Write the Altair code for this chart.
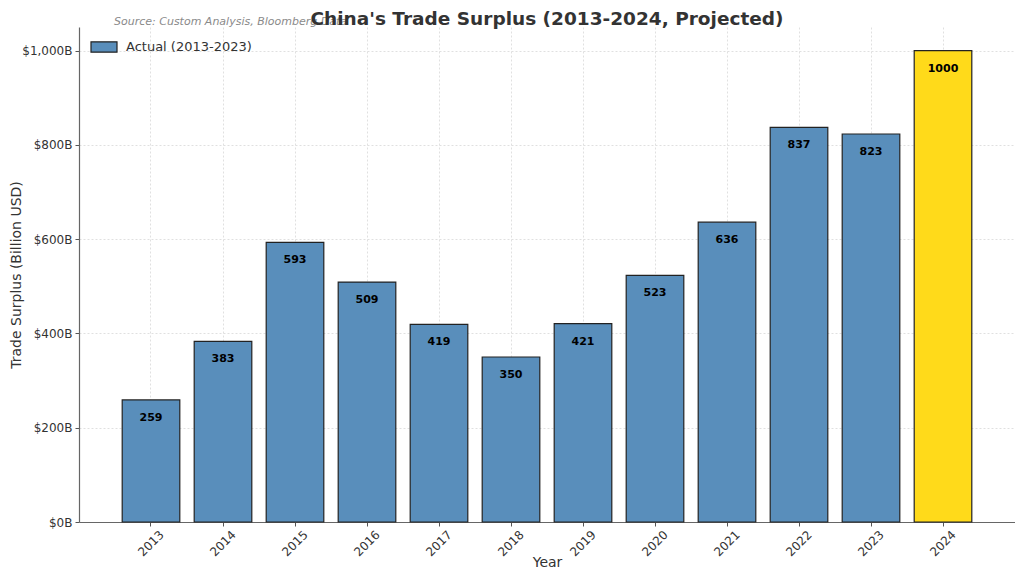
import altair as alt
import pandas as pd

years = ["2013", "2014", "2015", "2016", "2017", "2018", "2019", "2020", "2021", "2022", "2023", "2024"]
values = [259, 383, 593, 509, 419, 350, 421, 523, 636, 837, 823, 1000]
groups = ["Actual (2013-2023)"] * 11 + ["Projected (2024)"]
source_note = ["Source: Custom Analysis, Bloomberg Data"]
title_text = ["China's Trade Surplus (2013-2024, Projected)"]

df = pd.DataFrame({"year": years, "value": values, "group": groups})
note_df = pd.DataFrame({"note": source_note})
title_df = pd.DataFrame({"t": title_text})

FONT = "DejaVu Sans"
W, H = 936, 495

x_enc = alt.X(
    "year:N",
    sort=years,
    title="Year",
    scale=alt.Scale(paddingInner=0.2, paddingOuter=0.6),
    axis=alt.Axis(
        labelAngle=-45, labelAlign="center", labelBaseline="middle",
        labelFontSize=12, labelColor="#333", labelPadding=17,
        titleFontSize=14, titleColor="#333", titleFontWeight="normal",
        titleY=47, titleBaseline="bottom",
        grid=True, gridDash=[2, 2], gridColor="#d8d8d8", gridWidth=0.8,
        bandPosition=0.5, tickColor="#555", tickSize=4,
        domainColor="#666", domainWidth=1.2,
    ),
)
y_enc = alt.Y(
    "value:Q",
    title="Trade Surplus (Billion USD)",
    scale=alt.Scale(domain=[0, 1050], nice=False),
    axis=alt.Axis(
        values=[0, 200, 400, 600, 800, 1000],
        labelExpr="'$' + format(datum.value, ',') + 'B'",
        labelFontSize=12, labelColor="#333", labelPadding=3,
        titleFontSize=14, titleColor="#333", titleFontWeight="normal",
        titleX=-70, titleBaseline="top",
        grid=True, gridDash=[2, 2], gridColor="#d8d8d8", gridWidth=0.8,
        tickColor="#555", tickSize=4,
        domainColor="#666", domainWidth=1.2,
    ),
)

bars = alt.Chart(df).mark_bar(stroke="#222", strokeWidth=1.2).encode(
    x=x_enc,
    y=y_enc,
    color=alt.Color(
        "group:N",
        scale=alt.Scale(domain=["Actual (2013-2023)", "Projected (2024)"], range=["#598ebb", "#ffda1a"]),
        legend=alt.Legend(
            values=["Actual (2013-2023)"], title=None, orient="none", legendX=9, legendY=4,
            symbolType="M-1,-0.4L1,-0.4L1,0.4L-1,0.4Z", symbolSize=676,
            symbolStrokeColor="#222", symbolStrokeWidth=1.2, labelOffset=8,
            labelFontSize=13, labelColor="#333", labelFont=FONT,
            padding=2,
        ),
    ),
)

labels = alt.Chart(df).mark_text(
    baseline="middle", dy=18, fontSize=11, fontWeight="bold", color="black", font=FONT
).encode(
    x=alt.X("year:N", sort=years),
    y="value:Q",
    text="value:Q",
)

note = alt.Chart(note_df).mark_text(
    align="left", baseline="middle", fontSize=11, fontStyle="italic", color="#8a8a8a", font=FONT
).encode(
    x=alt.value(35),
    y=alt.value(-5),
    text="note:N",
)

title = alt.Chart(title_df).mark_text(
    align="center", baseline="middle", fontSize=18.5, fontWeight="bold", color="#333", font=FONT
).encode(
    x=alt.value(W / 2),
    y=alt.value(-8),
    text="t:N",
)

chart = alt.layer(bars, labels, note, title).properties(
    width=W,
    height=H,
    autosize=alt.AutoSizeParams(type="none"),
    padding={"left": 71, "top": 19, "right": 0, "bottom": 47},
).configure_view(stroke=None).configure_axis(
    labelFont=FONT, titleFont=FONT
)

chart.save("out.html", embed_options={"renderer": "svg", "actions": False})
